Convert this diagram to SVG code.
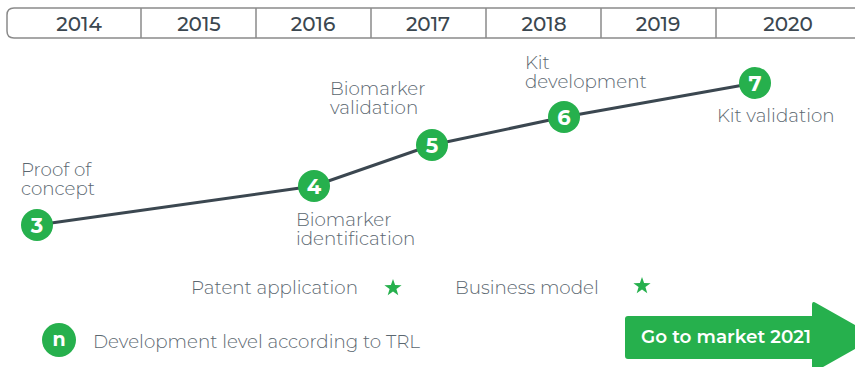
<svg xmlns="http://www.w3.org/2000/svg" width="855" height="367" viewBox="0 0 855 367">
<style>
.yr{font-family:"Montserrat","Lato","Liberation Sans",sans-serif;font-weight:500;font-size:20px;fill:#3b4750;text-anchor:middle}
.lbl{font-family:"Montserrat","Lato","Liberation Sans",sans-serif;font-weight:300;font-size:18.3px;fill:#5b6770}
.num{font-family:"Montserrat","Lato","Liberation Sans",sans-serif;font-weight:700;font-size:21px;fill:#fff;text-anchor:middle}
.node{fill:#26b04d}
.div{stroke:#8a8a8a;stroke-width:1.5}
</style>
<defs>
<polygon id="star" points="0,-9 2.1,-2.9 8.6,-2.8 3.4,1.1 5.3,7.3 0,3.6 -5.3,7.3 -3.4,1.1 -8.6,-2.8 -2.1,-2.9" fill="#26b04d"/>
</defs>
<rect width="855" height="367" fill="#fff"/>
<g id="timeline">
<path d="M870,8 H14 Q7,8 7,15 V31 Q7,38 14,38 H870" fill="none" stroke="#8a8a8a" stroke-width="1.5"/>
<line class="div" x1="141" y1="8" x2="141" y2="38"/>
<line class="div" x1="256" y1="8" x2="256" y2="38"/>
<line class="div" x1="371" y1="8" x2="371" y2="38"/>
<line class="div" x1="486" y1="8" x2="486" y2="38"/>
<line class="div" x1="601" y1="8" x2="601" y2="38"/>
<line class="div" x1="716" y1="8" x2="716" y2="38"/>
<text class="yr" x="79" y="31">2014</text>
<text class="yr" x="199" y="31">2015</text>
<text class="yr" x="313" y="31">2016</text>
<text class="yr" x="428" y="31">2017</text>
<text class="yr" x="544" y="31">2018</text>
<text class="yr" x="658" y="31">2019</text>
<text class="yr" x="788" y="31">2020</text>
</g>
<g id="connectors">
<polyline points="37,225 314,186 432,145 564,117 755,83" fill="none" stroke="#3b4750" stroke-width="3"/>
</g>
<g id="n3">
<circle class="node" cx="37" cy="225" r="16"/>
<text class="num" x="37" y="232.5">3</text>
<text class="lbl" x="21" y="176"><tspan x="21">Proof of</tspan><tspan x="21" dy="19">concept</tspan></text>
</g>
<g id="n4">
<circle class="node" cx="314" cy="186" r="16"/>
<text class="num" x="314" y="193.5">4</text>
<text class="lbl" x="296" y="226"><tspan x="296">Biomarker</tspan><tspan x="296" dy="19">identification</tspan></text>
</g>
<g id="n5">
<circle class="node" cx="432" cy="145" r="16"/>
<text class="num" x="432" y="152.5">5</text>
<text class="lbl" x="330" y="95"><tspan x="330">Biomarker</tspan><tspan x="330" dy="19">validation</tspan></text>
</g>
<g id="n6">
<circle class="node" cx="564" cy="117" r="16"/>
<text class="num" x="564" y="124.5">6</text>
<text class="lbl" x="525" y="69"><tspan x="525">Kit</tspan><tspan x="525" dy="19">development</tspan></text>
</g>
<g id="n7">
<circle class="node" cx="755" cy="83" r="16"/>
<text class="num" x="755" y="90.5">7</text>
<text class="lbl" x="717" y="122">Kit validation</text>
</g>
<g id="patent">
<text class="lbl" x="191" y="294">Patent application</text>
<use href="#star" x="393" y="288"/>
</g>
<g id="business">
<text class="lbl" x="455" y="294">Business model</text>
<use href="#star" x="642" y="286"/>
</g>
<g id="legend">
<circle class="node" cx="59" cy="340" r="17"/>
<text class="num" x="59" y="346" style="font-size:19px">n</text>
<text class="lbl" x="93" y="348">Development level according to TRL</text>
</g>
<g id="market">
<path d="M628,316 H812 V305 Q812,300 816,303 L876,337 L816,371 Q812,374 812,369 V359 H628 Q625,359 625,356 V319 Q625,316 628,316 Z" fill="#26b04d"/>
<text x="641" y="343" style="font-family:'Montserrat','Lato','Liberation Sans',sans-serif;font-weight:600;font-size:18.4px;fill:#fff">Go to market 2021</text>
</g>
</svg>
